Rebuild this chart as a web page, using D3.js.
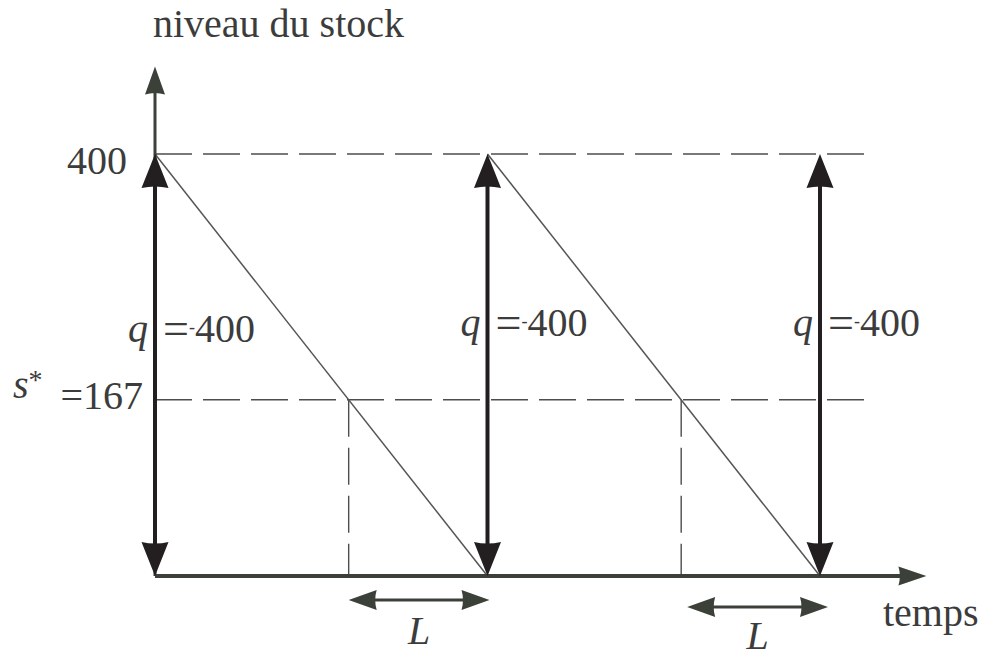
<!DOCTYPE html>
<html>
<head>
<meta charset="utf-8">
<script src="https://cdn.jsdelivr.net/npm/d3@7"></script>
<style>
  body { margin: 0; background: #fff; }
</style>
</head>
<body>
<script>
// stock policy values
let orderQty = 400;          // q
let reorderPoint = 167;      // s*
// replenishment instants, in cycles
let orderTimes = [0, 1, 2];
// lead time L as a fraction of a cycle
let leadTime = 0.4175;
let yLabels = ["400", "=167"];
let qText = "400";
let axisTitles = {y: "niveau du stock", x: "temps", lead: "L"};

// set the dimensions of the drawing
let width = 983, height = 657;
let margin = {left: 155, right: 163, top: 154, bottom: 81};
let serif = "Liberation Serif";

let svg = d3.select("body")
    .append("svg")
    .attr("width", width)
    .attr("height", height);

let x = d3.scaleLinear()
    .domain([0, 2])
    .range([margin.left, width - margin.right]);
let y = d3.scaleLinear()
    .domain([0, orderQty])
    .range([height - margin.bottom, margin.top]);

let axisCol = "#3b4039", arrowCol = "#231f20", thinCol = "#4d4d4d", textCol = "#3c3c3c";

// arrow head path pointing along (dx, dy) with tip at (tx, ty)
function head(tx, ty, dx, dy, len, half) {
    let bx = tx - dx * len, by = ty - dy * len;
    let px = -dy * half, py = dx * half;
    return "M" + tx + "," + ty +
        "L" + (bx + px) + "," + (by + py) +
        "Q" + (bx + dx * 3) + "," + (by + dy * 3) + " " + (bx - px) + "," + (by - py) + "Z";
}

function label(px, py, size) {
    return svg.append("text")
        .attr("x", px).attr("y", py)
        .attr("font-family", serif)
        .attr("font-size", size)
        .attr("fill", textCol);
}

// dashed reference lines
[orderQty, reorderPoint].forEach(function(v) {
    svg.append("line")
        .attr("x1", x(0)).attr("x2", x(2.15))
        .attr("y1", y(v)).attr("y2", y(v))
        .attr("stroke", thinCol).attr("stroke-width", 1.4)
        .attr("stroke-dasharray", "37,11");
});
orderTimes.slice(1).forEach(function(t) {
    svg.append("line")
        .attr("x1", x(t - leadTime)).attr("x2", x(t - leadTime))
        .attr("y1", y(reorderPoint)).attr("y2", y(0))
        .attr("stroke", thinCol).attr("stroke-width", 1.4)
        .attr("stroke-dasharray", "37,11");
});

// sawtooth stock level
let line = d3.line()
    .x(function(d) { return x(d[0]) })
    .y(function(d) { return y(d[1]) });
orderTimes.slice(1).forEach(function(t, i) {
    svg.append("path")
        .datum([[orderTimes[i], orderQty], [t, 0]])
        .attr("fill", "none")
        .attr("stroke", "#555")
        .attr("stroke-width", 1.5)
        .attr("d", line);
});

// axes
svg.append("line")
    .attr("x1", x(0)).attr("x2", x(0))
    .attr("y1", y(0)).attr("y2", y(483) + 20)
    .attr("stroke", axisCol).attr("stroke-width", 3);
svg.append("path")
    .attr("d", head(x(0), y(483), 0, -1, 28, 10))
    .attr("fill", axisCol);
svg.append("line")
    .attr("x1", x(0)).attr("x2", x(2.32) - 20)
    .attr("y1", y(0)).attr("y2", y(0))
    .attr("stroke", axisCol).attr("stroke-width", 4);
svg.append("path")
    .attr("d", head(x(2.32), y(0), 1, 0, 28, 9.5))
    .attr("fill", axisCol);

// order quantity double arrows
orderTimes.forEach(function(t, i) {
    svg.append("line")
        .attr("x1", x(t)).attr("x2", x(t))
        .attr("y1", y(0) - 25).attr("y2", y(orderQty) + 25)
        .attr("stroke", arrowCol).attr("stroke-width", 4);
    svg.append("path")
        .attr("d", head(x(t), y(orderQty), 0, -1, 34, 13.5))
        .attr("fill", arrowCol);
    svg.append("path")
        .attr("d", head(x(t), y(0), 0, 1, 34, 13.5))
        .attr("fill", arrowCol);

    let base = y(0) - 234 + (i > 0 ? -6 : 0);
    label(x(t) - 7, base, 40)
        .attr("text-anchor", "end")
        .attr("font-style", "italic")
        .text("q");
    let tx = label(x(t) + 8, base, 40);
    tx.append("tspan").attr("font-size", 46).attr("dy", 2).text("=");
    tx.append("tspan").attr("font-size", 18).attr("dy", -11).text("-");
    tx.append("tspan").attr("dy", 9).text(qText);
});

// lead time arrows
orderTimes.slice(1).forEach(function(t, i) {
    let yy = y(0) + 24 + i * 7;
    let x0 = x(t - leadTime) + i * 6, x1 = x(t) + 2 + i * 6;
    svg.append("line")
        .attr("x1", x0 + 20).attr("x2", x1 - 20)
        .attr("y1", yy).attr("y2", yy)
        .attr("stroke", axisCol).attr("stroke-width", 3);
    svg.append("path").attr("d", head(x0, yy, -1, 0, 28, 10)).attr("fill", axisCol);
    svg.append("path").attr("d", head(x1, yy, 1, 0, 28, 10)).attr("fill", axisCol);
    label((x0 + x1) / 2, yy + 44 - i * 2, 40)
        .attr("text-anchor", "middle")
        .attr("font-style", "italic")
        .text(axisTitles.lead);
});

// y labels
label(x(0) - 28, y(orderQty) + 20, 40)
    .attr("text-anchor", "end")
    .text(yLabels[0]);
let sLab = label(13, y(reorderPoint) - 2, 40)
    .attr("font-style", "italic");
sLab.append("tspan").text("s");
sLab.append("tspan").attr("font-size", 28).attr("font-style", "normal").attr("dy", -9).text("*");
label(x(0) - 12, y(reorderPoint) + 9, 40)
    .attr("text-anchor", "end")
    .text(yLabels[1]);

// axis titles
label(153, 37, 40).text(axisTitles.y);
label(883, 626, 40).text(axisTitles.x);
</script>
</body>
</html>
